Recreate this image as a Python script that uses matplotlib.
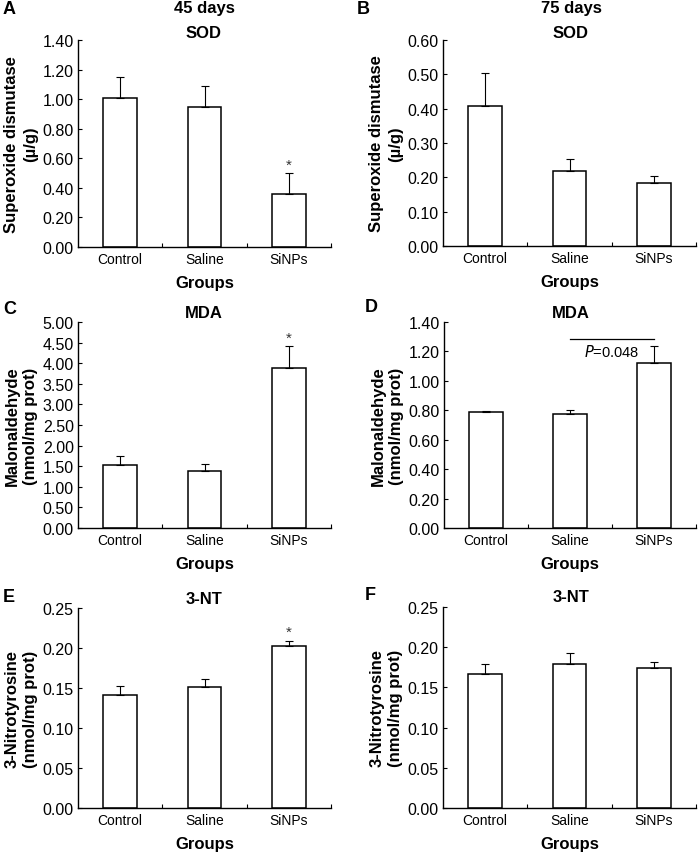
import matplotlib
matplotlib.use("Agg")
import matplotlib.pyplot as plt
from matplotlib.ticker import FormatStrFormatter, FixedLocator
import numpy as np

plt.rcParams['font.family'] = ['Liberation Sans', 'DejaVu Sans']

groups = ["Control", "Saline", "SiNPs"]

sod45_mean = [1.01, 0.95, 0.36]
sod45_err = [0.14, 0.14, 0.14]
sod75_mean = [0.407, 0.218, 0.184]
sod75_err = [0.096, 0.035, 0.019]
mda45_mean = [1.52, 1.375, 3.875]
mda45_err = [0.22, 0.185, 0.535]
mda75_mean = [0.786, 0.777, 1.119]
mda75_err = [0.009, 0.023, 0.118]
nt45_mean = [0.1415, 0.1515, 0.203]
nt45_err = [0.011, 0.0095, 0.006]
nt75_mean = [0.1668, 0.179, 0.1747]
nt75_err = [0.012, 0.014, 0.0063]

W, H = 698, 853
fig = plt.figure(figsize=(W / 100, H / 100), dpi=100)


def make_ax(left, top, right, bottom):
    return fig.add_axes([left / W, 1 - bottom / H, (right - left) / W, (bottom - top) / H])


def panel(ax, means, errs, ymax, ystep, ylabel, stars=None):
    x = np.arange(len(groups))
    ax.bar(x, means, width=0.4, color="white", edgecolor="black", linewidth=1.1, zorder=2)
    ax.errorbar(x, means, yerr=[np.zeros(len(errs)), errs], fmt="none", ecolor="black",
                elinewidth=0.8, capsize=2.6, capthick=0.8, zorder=3)
    ax.set_xlim(-0.5, 2.5)
    ax.set_ylim(0, ymax)
    ax.set_yticks(np.arange(0, ymax + ystep / 2, ystep))
    ax.yaxis.set_major_formatter(FormatStrFormatter("%.2f"))
    ax.set_xticks(x)
    ax.set_xticklabels(groups, fontsize=10)
    ax.xaxis.set_minor_locator(FixedLocator([0.5, 1.5, 2.5]))
    ax.tick_params(axis="x", which="major", length=0, pad=3.5)
    ax.tick_params(axis="x", which="minor", direction="in", length=3, width=0.8)
    ax.tick_params(axis="y", direction="in", length=3, width=0.8, labelsize=11.5, pad=3)
    for s in ["top", "right"]:
        ax.spines[s].set_visible(False)
    for s in ["left", "bottom"]:
        ax.spines[s].set_linewidth(1.0)
    ax.set_xlabel("Groups", fontsize=12, fontweight="bold", labelpad=6.5)
    ax.set_ylabel(ylabel, fontsize=12, fontweight="bold", linespacing=1.3)
    ax.yaxis.set_label_coords(-0.158, 0.5)
    if stars:
        for i in stars:
            ax.text(i, means[i] + errs[i] + ymax * 0.008, "*", ha="center", va="bottom",
                    fontsize=11, color="#333333")


axA = make_ax(78, 41, 331, 248)
panel(axA, sod45_mean, sod45_err, 1.40, 0.20, "Superoxide dismutase\n(\u00b5/g)", stars=[2])
axB = make_ax(443, 41, 696, 247)
panel(axB, sod75_mean, sod75_err, 0.60, 0.10, "Superoxide dismutase\n(\u00b5/g)")
axC = make_ax(78, 323, 331, 529)
panel(axC, mda45_mean, mda45_err, 5.00, 0.50, "Malonaldehyde\n(nmol/mg prot)", stars=[2])
axD = make_ax(444, 323, 696, 529)
panel(axD, mda75_mean, mda75_err, 1.40, 0.20, "Malonaldehyde\n(nmol/mg prot)")
axE = make_ax(78, 609, 331, 809)
panel(axE, nt45_mean, nt45_err, 0.25, 0.05, "3-Nitrotyrosine\n(nmol/mg prot)", stars=[2])
axF = make_ax(443, 608, 696, 809)
panel(axF, nt75_mean, nt75_err, 0.25, 0.05, "3-Nitrotyrosine\n(nmol/mg prot)")

# significance line in D
axD.plot([1.0, 2.0], [1.282, 1.282], color="black", lw=0.9, clip_on=False)
axD.text(1.5, 1.255, "$\\mathit{P}$=0.048", ha="center", va="top", fontsize=10.5)


def ftext(x, y, s, **kw):
    fig.text(x / W, 1 - y / H, s, **kw)


# titles
ftext(204, 9, "45 days", ha="center", va="center", fontsize=12, fontweight="bold")
ftext(204, 33, "SOD", ha="center", va="center", fontsize=12, fontweight="bold")
ftext(571, 9, "75 days", ha="center", va="center", fontsize=12, fontweight="bold")
ftext(571, 33, "SOD", ha="center", va="center", fontsize=12, fontweight="bold")
ftext(204, 313, "MDA", ha="center", va="center", fontsize=12, fontweight="bold")
ftext(571, 313, "MDA", ha="center", va="center", fontsize=12, fontweight="bold")
ftext(204, 600, "3-NT", ha="center", va="center", fontsize=12, fontweight="bold")
ftext(571, 598, "3-NT", ha="center", va="center", fontsize=12, fontweight="bold")

# panel letters
for lab, x, y in [("A", 3, 9), ("B", 357, 9), ("C", 3, 310), ("D", 365, 308), ("E", 3, 598), ("F", 365, 596)]:
    ftext(x, y, lab, ha="left", va="center", fontsize=13, fontweight="bold")

fig.savefig("out.png", dpi=100)
